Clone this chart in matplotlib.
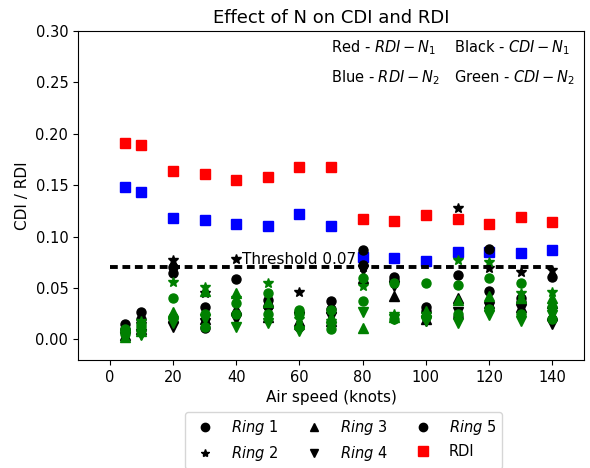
import matplotlib
matplotlib.use("Agg")
import matplotlib.pyplot as plt
from matplotlib.lines import Line2D

speeds = [5, 10, 20, 30, 40, 50, 60, 70, 80, 90, 100, 110, 120, 130, 140]

# RDI for the two N values
rdi_n1 = [0.191, 0.189, 0.164, 0.161, 0.155, 0.158, 0.168, 0.168,
          0.117, 0.115, 0.121, 0.117, 0.112, 0.119, 0.114]
rdi_n2 = [0.148, 0.143, 0.118, 0.116, 0.112, 0.110, 0.122, 0.110,
          0.080, 0.079, 0.076, 0.085, 0.085, 0.084, 0.087]

# CDI per ring, N1
cdi_n1_ring1 = [0.015, 0.027, 0.065, 0.032, 0.059, 0.038, 0.027, 0.037, 0.087, 0.061, 0.032, 0.063, 0.088, 0.040, 0.061]
cdi_n1_ring2 = [0.008, 0.015, 0.077, 0.045, 0.078, 0.030, 0.046, 0.025, 0.070, 0.055, 0.025, 0.128, 0.069, 0.066, 0.068]
cdi_n1_ring3 = [0.004, 0.010, 0.022, 0.020, 0.030, 0.022, 0.018, 0.018, 0.060, 0.042, 0.020, 0.040, 0.035, 0.032, 0.035]
cdi_n1_ring4 = [0.002, 0.005, 0.012, 0.016, 0.020, 0.028, 0.022, 0.022, 0.068, 0.052, 0.018, 0.027, 0.032, 0.030, 0.015]
cdi_n1_ring5 = [0.010, 0.020, 0.070, 0.011, 0.025, 0.033, 0.012, 0.030, 0.072, 0.058, 0.028, 0.022, 0.047, 0.036, 0.020]

# CDI per ring, N2
cdi_n2_ring1 = [0.005, 0.012, 0.040, 0.025, 0.035, 0.045, 0.029, 0.029, 0.060, 0.055, 0.055, 0.053, 0.060, 0.055, 0.020]
cdi_n2_ring2 = [0.008, 0.018, 0.056, 0.051, 0.040, 0.055, 0.020, 0.018, 0.052, 0.025, 0.025, 0.077, 0.075, 0.045, 0.046]
cdi_n2_ring3 = [0.002, 0.008, 0.027, 0.047, 0.045, 0.036, 0.015, 0.022, 0.011, 0.022, 0.028, 0.038, 0.042, 0.040, 0.040]
cdi_n2_ring4 = [0.003, 0.004, 0.016, 0.020, 0.012, 0.016, 0.008, 0.012, 0.027, 0.020, 0.018, 0.016, 0.024, 0.018, 0.024]
cdi_n2_ring5 = [0.010, 0.015, 0.022, 0.012, 0.025, 0.025, 0.025, 0.010, 0.037, 0.020, 0.022, 0.025, 0.030, 0.025, 0.032]

threshold = 0.07
ring_markers = ['o', '*', '^', 'v', 'o']
ring_labels = ['$Ring$ 1', '$Ring$ 2', '$Ring$ 3', '$Ring$ 4', '$Ring$ 5']

fig = plt.figure(figsize=(5.9, 4.68), dpi=100)
ax = fig.add_axes([78/590, 1-360/468, (584-78)/590, (360-31)/468])

ax.plot(speeds, rdi_n1, 's', color='red', ms=7.5, ls='none')
ax.plot(speeds, rdi_n2, 's', color='blue', ms=7.5, ls='none')

n1_sets = [cdi_n1_ring1, cdi_n1_ring2, cdi_n1_ring3, cdi_n1_ring4, cdi_n1_ring5]
n2_sets = [cdi_n2_ring1, cdi_n2_ring2, cdi_n2_ring3, cdi_n2_ring4, cdi_n2_ring5]
for vals, m in zip(n1_sets, ring_markers):
    ax.plot(speeds, vals, m, color='black', ms=7 if m == '*' else 6.5, ls='none')
for vals, m in zip(n2_sets, ring_markers):
    ax.plot(speeds, vals, m, color='green', ms=7 if m == '*' else 6.5, ls='none')

ax.hlines(threshold, 0, 140, colors='black', linestyles=(0, (2, 1.2)), linewidth=2.8)
ax.text(42, threshold + 0.0005, 'Threshold 0.07', fontsize=11, va='bottom', ha='left')

ax.text(70, 0.284, 'Red - $RDI - N_1$', fontsize=10.5, va='center')
ax.text(109, 0.284, 'Black - $CDI - N_1$', fontsize=10.5, va='center')
ax.text(70, 0.255, 'Blue - $RDI - N_2$', fontsize=10.5, va='center')
ax.text(109, 0.255, 'Green - $CDI - N_2$', fontsize=10.5, va='center')

ax.set_xlim(-10, 150)
ax.set_ylim(-0.02, 0.30)
ax.set_xticks([0, 20, 40, 60, 80, 100, 120, 140])
ax.set_yticks([0.00, 0.05, 0.10, 0.15, 0.20, 0.25, 0.30])
ax.set_yticklabels(['0.00', '0.05', '0.10', '0.15', '0.20', '0.25', '0.30'])
ax.tick_params(labelsize=10.5)
ax.set_xlabel('Air speed (knots)', fontsize=11)
ax.set_ylabel('CDI / RDI', fontsize=11)
ax.set_title('Effect of N on CDI and RDI', fontsize=13)

handles = [Line2D([], [], marker=m, color='black', ls='none', ms=6)
           for m in ring_markers]
handles.append(Line2D([], [], marker='s', color='red', ls='none', ms=7))
labels = ring_labels + ['RDI']
fig.legend(handles, labels, ncol=3, loc='upper center',
           bbox_to_anchor=(343.5/590, 1-405/468), fontsize=10.5,
           frameon=True, columnspacing=1.4)

fig.savefig('out.png', dpi=100)
